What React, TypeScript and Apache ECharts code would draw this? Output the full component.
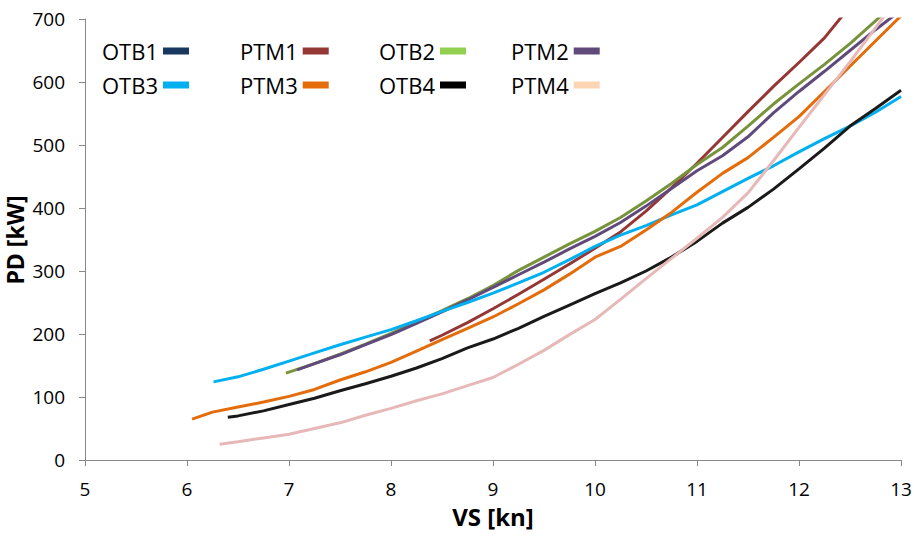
import React, { useEffect, useRef } from "react";
import * as echarts from "echarts";

// [VS kn, PD kW]
const OTB1: number[][] = [];
const PTM1 = [[8.38,189],[8.5,198],[8.75,218],[9,240],[9.25,263],[9.5,287],[9.75,311],[10,336],[10.25,362],[10.5,395],[10.75,432],[11,471],[11.25,512],[11.5,553],[11.75,593],[12,631],[12.25,670],[12.5,720]];
const OTB2 = [[6.97,138],[7.25,153],[7.5,168],[7.75,184],[8,201],[8.25,219],[8.5,237],[8.75,256],[9,277],[9.25,301],[9.5,322],[9.75,343],[10,363],[10.25,385],[10.5,411],[10.75,439],[11,469],[11.25,496],[11.5,530],[11.75,565],[12,597],[12.25,628],[12.5,661],[12.75,697],[13,735]];
const PTM2 = [[7.08,143],[7.25,153],[7.5,167],[7.75,183],[8,199],[8.25,217],[8.5,235],[8.75,254],[9,274],[9.25,294],[9.5,314],[9.75,335],[10,355],[10.25,377],[10.5,403],[10.75,431],[11,459],[11.25,483],[11.5,513],[11.75,551],[12,585],[12.25,617],[12.5,650],[12.75,683],[13,714]];
const OTB3 = [[6.26,124],[6.5,132],[6.75,144],[7,157],[7.25,170],[7.5,183],[7.75,195],[8,207],[8.25,221],[8.5,236],[8.75,250],[9,265],[9.25,281],[9.5,298],[9.75,318],[10,339],[10.25,357],[10.5,372],[10.75,389],[11,405],[11.25,426],[11.5,447],[11.75,467],[12,489],[12.25,510],[12.5,530],[12.75,552],[13,577]];
const PTM3 = [[6.05,65],[6.25,76],[6.5,84],[6.75,92],[7,101],[7.25,112],[7.5,127],[7.75,140],[8,155],[8.25,173],[8.5,191],[8.75,209],[9,227],[9.25,248],[9.5,270],[9.75,295],[10,322],[10.25,339],[10.5,365],[10.75,393],[11,425],[11.25,455],[11.5,480],[11.75,512],[12,545],[12.25,585],[12.5,625],[12.75,665],[13,705]];
const OTB4 = [[6.4,68],[6.5,70],[6.75,78],[7,88],[7.25,98],[7.5,110],[7.75,121],[8,133],[8.25,146],[8.5,161],[8.75,178],[9,192],[9.25,209],[9.5,228],[9.75,246],[10,264],[10.25,281],[10.5,300],[10.75,322],[11,347],[11.25,376],[11.5,401],[11.75,430],[12,462],[12.25,495],[12.5,530],[12.75,558],[13,587]];
const PTM4 = [[6.32,25],[6.5,29],[6.75,35],[7,41],[7.25,50],[7.5,59],[7.75,71],[8,82],[8.25,94],[8.5,105],[8.75,118],[9,131],[9.25,152],[9.5,174],[9.75,199],[10,223],[10.25,255],[10.5,288],[10.75,320],[11,352],[11.25,385],[11.5,424],[11.75,475],[12,528],[12.25,580],[12.5,632],[12.75,686],[13,740]];

const SERIES_NAMES = ["OTB1", "PTM1", "OTB2", "PTM2", "OTB3", "PTM3", "OTB4", "PTM4"];
const SERIES_DATA = [OTB1, PTM1, OTB2, PTM2, OTB3, PTM3, OTB4, PTM4];
const LINE_COLORS = ["#17375E", "#953735", "#77933C", "#604A7B", "#00B0F0", "#E46C0A", "#1A1A1A", "#E6B9B8"];
const LEGEND_COLORS = ["#17375E", "#953735", "#92D050", "#604A7B", "#00B0F0", "#E46C0A", "#000000", "#FCD5B5"];
const LEGEND_POS = [[102, 51], [240, 51], [379, 51], [511, 51], [102, 85], [240, 85], [379, 85], [511, 85]];
const Y_TITLE = "PD [kW]";
const X_TITLE = "VS [kn]";

const FONT = "'Open Sans', 'Noto Sans', sans-serif";

export default function App() {
  const ref = useRef<HTMLDivElement>(null);
  useEffect(() => {
    if (!ref.current) return;
    const chart = echarts.init(ref.current, null, { renderer: "svg" });
    const axisLine = { show: true, lineStyle: { color: "#888888", width: 1 } };
    chart.setOption({
      animation: false,
      backgroundColor: "#ffffff",
      textStyle: { fontFamily: FONT },
      grid: { left: 85, right: 13, top: 19, bottom: 82, containLabel: false, outerBoundsMode: "none" },
      graphic: [
        {
          type: "text",
          x: 15,
          y: 240,
          rotation: Math.PI / 2,
          style: {
            text: Y_TITLE,
            fontFamily: FONT,
            fontSize: 23,
            fontWeight: "bold",
            fill: "#000",
            align: "center",
            verticalAlign: "middle",
          },
        },
      ],
      legend: SERIES_NAMES.map((n, i) => ({
        left: LEGEND_POS[i][0],
        top: LEGEND_POS[i][1] - 13,
        padding: 0,
        orient: "horizontal",
        align: "right",
        icon: "rect",
        itemWidth: 26,
        itemHeight: 7,
        selectedMode: false,
        textStyle: { fontFamily: FONT, fontSize: 22, color: "#000", lineHeight: 26 },
        data: [{ name: n, itemStyle: { color: LEGEND_COLORS[i] } }],
      })),
      xAxis: {
        type: "value",
        min: 5,
        max: 13,
        interval: 1,
        name: X_TITLE,
        nameLocation: "middle",
        nameGap: 44,
        nameTextStyle: { fontFamily: FONT, fontSize: 24, fontWeight: "bold", color: "#000" },
        axisLine,
        axisTick: { show: true, length: 6, lineStyle: { color: "#888888" } },
        axisLabel: { fontFamily: FONT, fontSize: 19, color: "#000", margin: 19 },
        splitLine: { show: false },
      },
      yAxis: {
        type: "value",
        min: 0,
        max: 700,
        interval: 100,
        axisLine,
        axisTick: { show: true, length: 6, lineStyle: { color: "#888888" } },
        axisLabel: { fontFamily: FONT, fontSize: 19, color: "#000", margin: 20 },
        splitLine: { show: false },
      },
      series: SERIES_NAMES.map((n, i) => ({
        name: n,
        type: "line",
        data: SERIES_DATA[i],
        showSymbol: false,
        symbol: "none",
        clip: true,
        lineStyle: { color: LINE_COLORS[i], width: 3 },
        itemStyle: { color: LINE_COLORS[i] },
      })),
    });
    return () => chart.dispose();
  }, []);
  return <div ref={ref} style={{ width: 914, height: 542, position: "absolute", left: 0, top: 0 }} />;
}
